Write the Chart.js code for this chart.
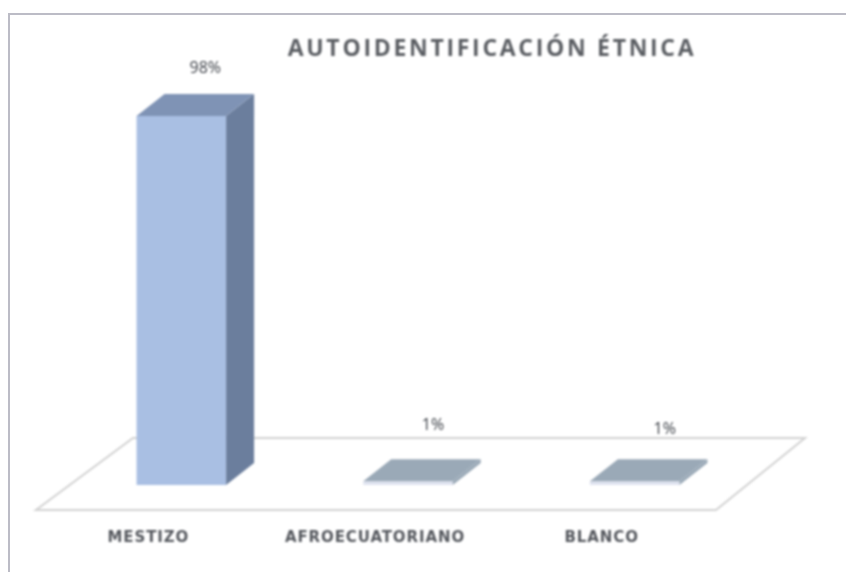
<!DOCTYPE html>
<html>

<head>
	<meta charset="utf-8">
	<style>
		body { margin: 0; background: #fff; }
		#wrap { position: relative; width: 846px; height: 572px; overflow: hidden; }
		#frame { position: absolute; left: 8px; top: 13px; right: -4px; bottom: -4px; border: 2px solid #bcbcc6; box-sizing: border-box; filter: blur(0.6px); }
		canvas { filter: blur(0.8px); }
	</style>
	<script src="https://cdn.jsdelivr.net/npm/chart.js@4"></script>
</head>

<body>
	<div id="wrap">
		<canvas id="chart" width="846" height="572"></canvas>
		<div id="frame"></div>
	</div>
	<script>
		const title = 'AUTOIDENTIFICACIÓN ÉTNICA';
		const categories = ['MESTIZO', 'AFROECUATORIANO', 'BLANCO'];
		const percentages = [98, 1, 1];

		const depth = { x: 28, y: 22 };

		// fake 3D: floor goes under the bars, sides and tops are built on the bar elements
		const floor3d = {
			id: 'floor3d',
			beforeDraw(chart) {
				// tick labels in the reference are spaced out, the scale has no option for it
				chart.ctx.letterSpacing = '0.9px';
			},
			beforeDatasetsDraw(chart) {
				const { ctx, chartArea: a } = chart;
				ctx.save();
				ctx.strokeStyle = '#d2d2d2';
				ctx.lineWidth = 2;
				ctx.beginPath();
				ctx.moveTo(a.left - 32, a.bottom + 25);
				ctx.lineTo(a.right - 32, a.bottom + 25);
				ctx.lineTo(a.right + 57, a.bottom - 47);
				ctx.lineTo(a.left + 65, a.bottom - 47);
				ctx.closePath();
				ctx.stroke();
				ctx.restore();
			}
		};

		const bars3d = {
			id: 'bars3d',
			afterDatasetsDraw(chart) {
				const { ctx } = chart;
				ctx.save();
				chart.getDatasetMeta(0).data.forEach((bar, i) => {
					const l = bar.x - bar.width / 2;
					const r = bar.x + bar.width / 2;
					const big = percentages[i] > 10;
					ctx.fillStyle = big ? '#6b7e9d' : '#9aa9b7';
					ctx.beginPath();
					ctx.moveTo(r, bar.y);
					ctx.lineTo(r + depth.x, bar.y - depth.y);
					ctx.lineTo(r + depth.x, bar.base - depth.y);
					ctx.lineTo(r, bar.base);
					ctx.closePath();
					ctx.fill();
					ctx.fillStyle = big ? '#7f93b5' : '#9aa9b7';
					ctx.beginPath();
					ctx.moveTo(l, bar.y);
					ctx.lineTo(l + depth.x, bar.y - depth.y);
					ctx.lineTo(r + depth.x, bar.y - depth.y);
					ctx.lineTo(r, bar.y);
					ctx.closePath();
					ctx.fill();
				});
				ctx.restore();
			}
		};

		const texts = {
			id: 'texts',
			afterDraw(chart) {
				const { ctx } = chart;
				const lift = [48, 56, 52];
				const shift = [24, 25, 30];
				ctx.save();
				ctx.textAlign = 'center';
				ctx.textBaseline = 'middle';
				ctx.letterSpacing = '0px';
				ctx.fillStyle = '#3c4047';
				ctx.font = '16px "Open Sans"';
				chart.getDatasetMeta(0).data.forEach((bar, i) => {
					ctx.fillText(percentages[i] + '%', bar.x + shift[i], bar.y - lift[i]);
				});
				ctx.fillStyle = '#5b5e63';
				ctx.font = 'bold 23px "Open Sans"';
				ctx.letterSpacing = '2.7px';
				ctx.fillText(title, 492, 49);
				ctx.restore();
				ctx.letterSpacing = '0px';
			}
		};

		new Chart(document.getElementById('chart'), {
			type: 'bar',
			data: {
				labels: categories,
				datasets: [{
					data: percentages,
					backgroundColor: ['#a9bfe3', '#dfe3f0', '#dfe3f0'],
					barPercentage: 0.79,
					categoryPercentage: 0.5
				}]
			},
			options: {
				responsive: false,
				animation: { duration: 0 },
				layout: { padding: { left: 68, right: 98, top: 108.5, bottom: 29 } },
				plugins: { legend: { display: false }, title: { display: false }, tooltip: { enabled: false } },
				scales: {
					x: {
						grid: { display: false },
						border: { display: false },
						afterFit(scale) { scale.height = 58; },
						ticks: {
							color: '#55585e',
							font: { family: 'DejaVu Sans', size: 15, weight: 'bold' },
							padding: 36,
							labelOffset: -33,
							maxRotation: 0,
							autoSkip: false
						}
					},
					y: { display: false, min: 0, max: 100 }
				}
			},
			plugins: [floor3d, bars3d, texts]
		});
	</script>
</body>

</html>
